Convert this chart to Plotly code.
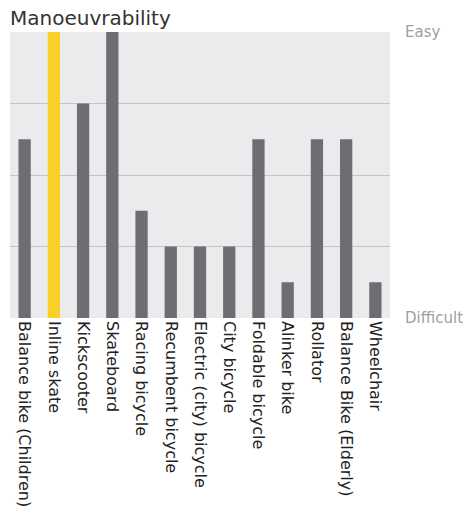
import plotly.graph_objects as go

categories = ["Balance bike (Children)", "Inline skate", "Kickscooter", "Skateboard",
              "Racing bicycle", "Recumbent bicycle", "Electric (city) bicycle",
              "City bicycle", "Foldable bicycle", "Alinker bike", "Rollator",
              "Balance Bike (Elderly)", "Wheelchair"]
values = [5, 8, 6, 8, 3, 2, 2, 2, 5, 1, 5, 5, 1]
highlight = "Inline skate"
y_tickvals = [0, 2, 4, 6, 8]
y_ticktext = ["Difficult", "", "", "", "Easy"]

colors = ["#F9CF28" if c == highlight else "#6D6E71" for c in categories]

fig = go.Figure(go.Bar(x=categories, y=values, marker=dict(color=colors, line=dict(width=0)),
                       width=0.42))

fig.update_layout(
    width=473, height=512,
    margin=dict(l=10, r=83, t=32, b=194),
    plot_bgcolor="#EBEBED", paper_bgcolor="white",
    font=dict(family="DejaVu Sans, sans-serif", color="#333333"),
    showlegend=False,
    annotations=[dict(text="Manoeuvrability", xref="paper", yref="paper", x=0, y=1,
                      xanchor="left", yanchor="bottom", yshift=0, xshift=-2, showarrow=False,
                      font=dict(size=20, color="#333333"))],
)
fig.update_xaxes(tickangle=90, tickfont=dict(size=16, color="#222222"), ticks="",
                 showgrid=False, ticklabelstandoff=2, automargin=False)
fig.update_yaxes(range=[0, 8], side="right", tickvals=y_tickvals, ticktext=y_ticktext,
                 tickfont=dict(size=15, color="#A0A0A0"), showgrid=True,
                 gridcolor="#C4C4C6", gridwidth=1, zeroline=False, ticks="",
                 ticklabelstandoff=14, automargin=False)

fig.write_html("out.html")
